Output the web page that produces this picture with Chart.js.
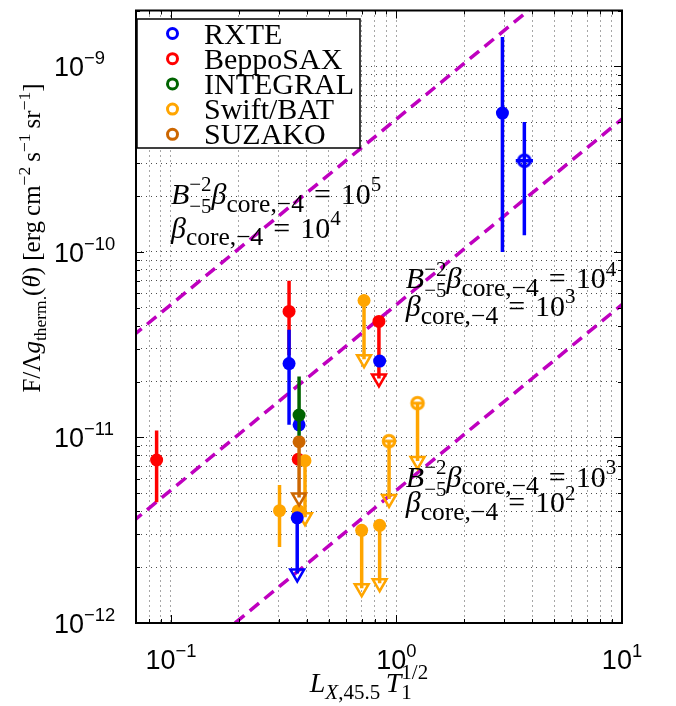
<!DOCTYPE html>
<html>
<head>
<meta charset="utf-8">
<script src="https://cdn.jsdelivr.net/npm/chart.js@4.4.1/dist/chart.umd.min.js"></script>
<style>
  html, body { margin: 0; padding: 0; background: #fff; }
</style>
</head>
<body>
<canvas id="flux" width="676" height="706"></canvas>
<script>
// axis ranges
var xMin = 0.07, xMax = 10, yMin = 1e-12, yMax = 2e-9;

// dashed model lines (two end points each)
var modelX = [0.05, 20];
var model1e5 = [2.6e-11, 1.04e-8];
var model1e4 = [2.6e-12, 1.04e-9];
var model1e3 = [2.6e-13, 1.04e-10];

var names = ['RXTE', 'BeppoSAX', 'INTEGRAL', 'Swift/BAT', 'SUZAKO'];
var colors = ['#0000ff', '#ff0000', '#006400', '#ffa500', '#cc6600'];

// RXTE: detections with error bars, then upper limits (arrow end)
var rxteX = [2.95, 3.69, 0.334, 0.370, 0.842];
var rxteY = [5.6e-10, 3.1e-10, 2.5e-11, 1.17e-11, 2.58e-11];
var rxteLo = [1.0e-10, 1.23e-10, 1.17e-11, null, null];
var rxteHi = [1.44e-9, 5.02e-10, 3.8e-11, null, null];
var rxteXLo = [null, 3.38, null, null, null];
var rxteXHi = [null, 4.03, null, null, null];
var rxteUlX = [0.363];
var rxteUlY = [3.69e-12];
var rxteUlEnd = [1.85e-12];

// BeppoSAX
var saxX = [0.0864, 0.334, 0.367];
var saxY = [7.56e-12, 4.78e-11, 7.63e-12];
var saxLo = [4.47e-12, 2.78e-11, null];
var saxHi = [1.09e-11, 7.0e-11, null];
var saxUlX = [0.836];
var saxUlY = [4.22e-11];
var saxUlEnd = [2.08e-11];

// INTEGRAL
var intX = [0.370];
var intY = [1.32e-11];
var intLo = [1.02e-11];
var intHi = [2.13e-11];

// Swift/BAT
var batX = [0.303, 0.367];
var batY = [4.03e-12, 4.03e-12];
var batLo = [2.57e-12, null];
var batHi = [5.55e-12, null];
var batUlX = [0.393, 0.718, 1.24, 0.927, 0.701, 0.842];
var batUlY = [7.5e-12, 5.47e-11, 1.53e-11, 9.55e-12, 3.16e-12, 3.36e-12];
var batUlEnd = [3.72e-12, 2.64e-11, 7.47e-12, 4.66e-12, 1.54e-12, 1.64e-12];

// SUZAKO
var suzUlX = [0.370];
var suzUlY = [9.48e-12];
var suzUlEnd = [4.75e-12];

var SERIF = '"Liberation Serif", "DejaVu Serif", serif';
var SANS = '"Liberation Sans", Arial, sans-serif';

function openMarker(color, withBar) {
  var c = document.createElement('canvas');
  c.width = 18; c.height = 18;
  var g = c.getContext('2d');
  g.strokeStyle = color;
  g.lineWidth = 3;
  g.beginPath(); g.arc(9, 9, 5.8, 0, 2 * Math.PI); g.stroke();
  if (withBar) { g.beginPath(); g.moveTo(2, 9); g.lineTo(16, 9); g.stroke(); }
  return c;
}

function markerSet(label, color, order, xs, ys, lo, hi, ulX, ulY, ulEnd, styles) {
  var pts = [], vbars = [], shafts = [];
  xs.forEach(function (x, i) {
    pts.push({x: x, y: ys[i]});
    if (lo && lo[i] != null) vbars.push({x: x, lo: lo[i], hi: hi[i]});
  });
  (ulX || []).forEach(function (x, i) {
    pts.push({x: x, y: ulY[i]});
    shafts.push({x: x, lo: ulEnd[i], hi: ulY[i]});
  });
  return {
    label: label, data: pts, order: order,
    pointRadius: 6.5, pointStyle: styles || 'circle',
    backgroundColor: color, borderColor: color, borderWidth: 0,
    vbars: vbars.concat(shafts), hbars: [], barColor: color
  };
}

function arrowSet(color, order, ulX, ulEnd) {
  return {
    label: '', data: ulX.map(function (x, i) { return {x: x, y: ulEnd[i]}; }),
    order: order, pointStyle: 'triangle', rotation: 180, pointRadius: 8,
    borderColor: color, borderWidth: 2.5, backgroundColor: 'rgba(255,255,255,0)'
  };
}

function modelSet(ys) {
  return {
    label: '', data: modelX.map(function (x, i) { return {x: x, y: ys[i]}; }),
    showLine: true, pointRadius: 0, borderColor: '#bf00bf', borderWidth: 3.5,
    borderDash: [12, 7], order: 10
  };
}

var rxteStyles = rxteX.map(function (x, i) { return i === 1 ? openMarker(colors[0], false) : 'circle'; })
  .concat(rxteUlX.map(function () { return 'circle'; }));
var batStyles = batX.map(function () { return 'circle'; })
  .concat(batUlX.map(function (x, i) { return (i === 2 || i === 3) ? openMarker(colors[3], true) : 'circle'; }));

var rxteSet = markerSet('RXTE', colors[0], 3, rxteX, rxteY, rxteLo, rxteHi, rxteUlX, rxteUlY, rxteUlEnd, rxteStyles);
rxteSet.hbars = rxteXLo.map(function (v, i) { return v == null ? null : {y: rxteY[i], lo: v, hi: rxteXHi[i]}; })
  .filter(function (b) { return b; });

var datasets = [
  rxteSet,
  arrowSet(colors[0], 3, rxteUlX, rxteUlEnd),
  markerSet('BeppoSAX', colors[1], 5, saxX, saxY, saxLo, saxHi, saxUlX, saxUlY, saxUlEnd),
  arrowSet(colors[1], 5, saxUlX, saxUlEnd),
  markerSet('INTEGRAL', colors[2], 1, intX, intY, intLo, intHi),
  markerSet('Swift/BAT', colors[3], 4, batX, batY, batLo, batHi, batUlX, batUlY, batUlEnd, batStyles),
  arrowSet(colors[3], 4, batUlX, batUlEnd),
  markerSet('SUZAKO', colors[4], 2, [], [], null, null, suzUlX, suzUlY, suzUlEnd),
  arrowSet(colors[4], 2, suzUlX, suzUlEnd),
  modelSet(model1e5),
  modelSet(model1e4),
  modelSet(model1e3)
];

// text notes next to the model lines (data coords of first-line start)
var notes = [
  {x: 0.100, y1: 1.81e-10, y2: 1.19e-10, a: '5', b: '4'},
  {x: 1.10, y1: 6.37e-11, y2: 4.51e-11, a: '4', b: '3'},
  {x: 1.10, y1: 5.42e-12, y2: 3.95e-12, a: '3', b: '2'}
];

function logTicks(scale) {
  var lo = scale.min, hi = scale.max, out = [];
  for (var e = Math.floor(Math.log10(lo)); e <= Math.ceil(Math.log10(hi)); e++) {
    for (var m = 1; m <= 9; m++) {
      var v = m * Math.pow(10, e);
      if (v >= lo * 0.999999 && v <= hi * 1.000001) out.push({value: v, major: m === 1});
    }
  }
  scale.ticks = out;
}

function setFont(ctx, px, italic, fam) {
  ctx.font = (italic ? 'italic ' : '') + px.toFixed(1) + 'px ' + (fam || SERIF);
}

// runs: t text, s scale, d baseline shift (em, down +), i italic, k stack with next
function mathWidth(ctx, runs, size, fam) {
  var w = 0, hold = 0;
  runs.forEach(function (r) {
    setFont(ctx, size * (r.s || 1), r.i, fam);
    var rw = ctx.measureText(r.t).width;
    if (r.k) hold = Math.max(hold, rw);
    else { w += Math.max(hold, rw); hold = 0; }
  });
  return w + hold;
}

function drawMath(ctx, runs, x, y, size, align, fam) {
  var w = mathWidth(ctx, runs, size, fam);
  var cx = align === 'center' ? x - w / 2 : (align === 'right' ? x - w : x);
  var hold = 0;
  ctx.textAlign = 'left';
  ctx.textBaseline = 'alphabetic';
  runs.forEach(function (r) {
    setFont(ctx, size * (r.s || 1), r.i, fam);
    var rw = ctx.measureText(r.t).width;
    ctx.fillText(r.t, cx, y + (r.d || 0) * size);
    if (r.k) hold = Math.max(hold, rw);
    else { cx += Math.max(hold, rw); hold = 0; }
  });
}

function sup(t) { return {t: t, s: 0.7, d: -0.42}; }
function sub(t, s) { return {t: t, s: s || 0.75, d: 0.25}; }

var errorBars = {
  id: 'errorBars',
  beforeDatasetDraw: function (chart, args) {
    var ds = chart.data.datasets[args.index];
    if (!ds.vbars && !ds.hbars) return;
    var ctx = chart.ctx, xs = chart.scales.x, ys = chart.scales.y, a = chart.chartArea;
    ctx.save();
    ctx.beginPath();
    ctx.rect(a.left, a.top, a.right - a.left, a.bottom - a.top);
    ctx.clip();
    ctx.strokeStyle = ds.barColor;
    ctx.lineWidth = 3.5;
    (ds.vbars || []).forEach(function (b) {
      var px = xs.getPixelForValue(b.x);
      ctx.beginPath();
      ctx.moveTo(px, ys.getPixelForValue(b.lo));
      ctx.lineTo(px, ys.getPixelForValue(b.hi));
      ctx.stroke();
    });
    (ds.hbars || []).forEach(function (b) {
      var py = ys.getPixelForValue(b.y);
      ctx.beginPath();
      ctx.moveTo(xs.getPixelForValue(b.lo), py);
      ctx.lineTo(xs.getPixelForValue(b.hi), py);
      ctx.stroke();
    });
    ctx.restore();
  }
};

var decorations = {
  id: 'decorations',
  afterDraw: function (chart) {
    var ctx = chart.ctx, xs = chart.scales.x, ys = chart.scales.y, a = chart.chartArea;
    ctx.save();
    ctx.fillStyle = '#000';
    ctx.strokeStyle = '#000';

    // inward tick marks on all four sides
    ctx.lineWidth = 1;
    xs.ticks.forEach(function (t) {
      var px = Math.round(xs.getPixelForValue(t.value)) + 0.5;
      var len = t.major ? 8 : 4;
      ctx.beginPath();
      ctx.moveTo(px, a.bottom); ctx.lineTo(px, a.bottom - len);
      ctx.moveTo(px, a.top); ctx.lineTo(px, a.top + len);
      ctx.stroke();
    });
    ys.ticks.forEach(function (t) {
      var py = Math.round(ys.getPixelForValue(t.value)) + 0.5;
      var len = t.major ? 8 : 4;
      ctx.beginPath();
      ctx.moveTo(a.left, py); ctx.lineTo(a.left + len, py);
      ctx.moveTo(a.right, py); ctx.lineTo(a.right - len, py);
      ctx.stroke();
    });

    // frame
    ctx.lineWidth = 2;
    ctx.strokeRect(a.left, a.top, a.right - a.left, a.bottom - a.top);

    // tick labels
    xs.ticks.forEach(function (t) {
      if (!t.major) return;
      var e = Math.round(Math.log10(t.value));
      var runs = [{t: '10'}, {t: String(e).replace('-', '\u2212'), s: 0.68, d: -0.45}];
      drawMath(ctx, runs, xs.getPixelForValue(t.value), a.bottom + 46, 27, 'center', SANS);
    });
    ys.ticks.forEach(function (t) {
      if (!t.major) return;
      var e = Math.round(Math.log10(t.value));
      var runs = [{t: '10'}, {t: String(e).replace('-', '\u2212'), s: 0.68, d: -0.45}];
      drawMath(ctx, runs, 54, ys.getPixelForValue(t.value) + 10, 27, 'left', SANS);
    });

    // axis titles
    var xRuns = [{t: 'L', i: true}, {t: 'X', i: true, s: 0.75, d: 0.25}, sub(',45.5'),
      {t: '\u2009T', i: true}, {t: '1/2', s: 0.75, d: -0.45, k: true}, sub('1')];
    drawMath(ctx, xRuns, (a.left + a.right) / 2 - 10, 692, 28, 'center');

    ctx.save();
    ctx.translate(40, 238);
    ctx.rotate(-Math.PI / 2);
    var yRuns = [{t: 'F/\u039b'}, {t: 'g', i: true}, sub('therm.', 0.7), {t: '('}, {t: '\u03b8', i: true},
      {t: ') [erg\u2009cm'}, sup('\u22122'), {t: '\u2009s'}, sup('\u22121'), {t: '\u2009sr'}, sup('\u22121'), {t: ']'}];
    drawMath(ctx, yRuns, 0, 0, 25, 'center');
    ctx.restore();

    // notes
    notes.forEach(function (n) {
      var px = xs.getPixelForValue(n.x);
      var l1 = [{t: 'B', i: true}, {t: '\u22122', s: 0.7, d: -0.42, k: true}, {t: '\u22125', s: 0.7, d: 0.3},
        {t: '\u03b2', i: true}, sub('core,\u22124', 0.85), {t: '\u2004=\u200410'}, sup(n.a)];
      var l2 = [{t: '\u03b2', i: true}, sub('core,\u22124', 0.85), {t: '\u2004=\u200410'}, sup(n.b)];
      drawMath(ctx, l1, px, ys.getPixelForValue(n.y1), 30, 'left');
      drawMath(ctx, l2, px, ys.getPixelForValue(n.y2), 30, 'left');
    });

    // legend
    var bx = 137, by = 19, bw = 223, bh = 129;
    ctx.fillStyle = '#fff';
    ctx.fillRect(bx, by, bw, bh);
    ctx.lineWidth = 1.5;
    ctx.strokeStyle = '#000';
    ctx.strokeRect(bx, by, bw, bh);
    names.forEach(function (nm, i) {
      var cy = 33.5 + i * 25.2;
      ctx.strokeStyle = colors[i];
      ctx.lineWidth = 3;
      ctx.beginPath(); ctx.arc(172.5, cy, 5, 0, 2 * Math.PI); ctx.stroke();
      ctx.fillStyle = '#000';
      setFont(ctx, 30, false);
      ctx.textAlign = 'left';
      ctx.textBaseline = 'alphabetic';
      ctx.fillText(nm, 204, cy + 10);
    });
    ctx.restore();
  }
};

var axisCommon = {
  type: 'logarithmic',
  afterBuildTicks: logTicks,
  ticks: {display: false},
  grid: {color: 'rgba(0,0,0,0.7)', lineWidth: 1, drawTicks: false},
  border: {display: false, dash: [1, 4]}
};

new Chart(document.getElementById('flux').getContext('2d'), {
  type: 'scatter',
  data: {datasets: datasets},
  options: {
    responsive: false,
    animation: false,
    layout: {padding: {left: 136, right: 54, top: 5, bottom: 83}},
    plugins: {legend: {display: false}, tooltip: {enabled: false}},
    scales: {
      x: Object.assign({}, axisCommon, {min: xMin, max: xMax}),
      y: Object.assign({}, axisCommon, {min: yMin, max: yMax})
    }
  },
  plugins: [errorBars, decorations]
});
</script>
</body>
</html>
